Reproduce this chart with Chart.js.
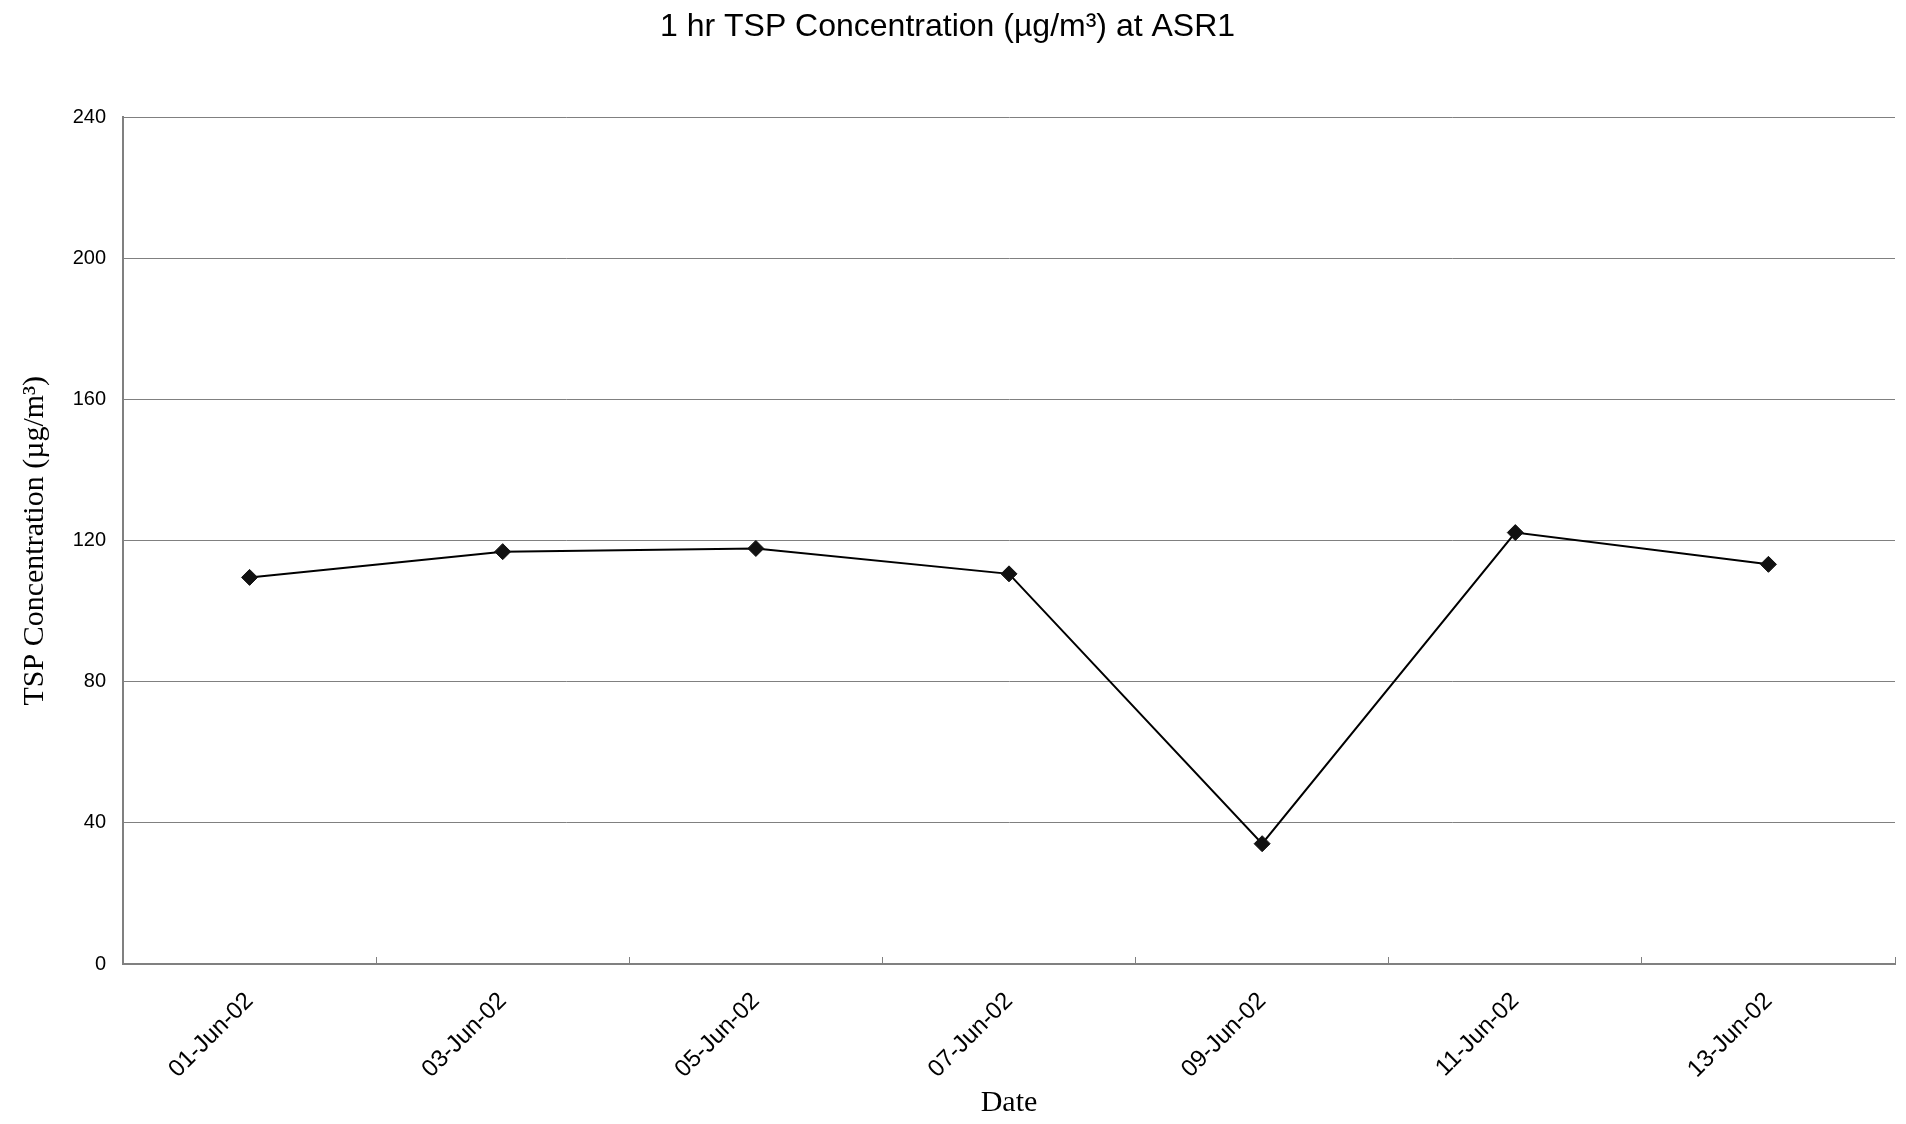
<!DOCTYPE html>
<html>
<head>
<meta charset="utf-8">
<title>1 hr TSP Concentration at ASR1</title>
<script src="https://cdn.jsdelivr.net/npm/chart.js@4.4.1/dist/chart.umd.min.js"></script>
<style>
    html, body {
        margin: 0;
        padding: 0;
        background: #ffffff;
    }
    canvas {
        display: block;
    }
</style>
</head>
<body>
<canvas id="tspChart" width="1906" height="1124"></canvas>
<script>
// Chart data
const dateLabels = ['01-Jun-02', '03-Jun-02', '05-Jun-02', '07-Jun-02', '09-Jun-02', '11-Jun-02', '13-Jun-02'];
const tspValues = [109.6, 116.9, 117.8, 110.6, 34.1, 122.3, 113.3];

// Y axis tick range
const yMin = 0;
const yMax = 240;
const yStep = 40;

const axisGray = '#808080';

document.addEventListener('DOMContentLoaded', () => {
    initializeTspChart();
});

function initializeTspChart() {
    const ctx = document.getElementById('tspChart').getContext('2d');

    const data = {
        labels: dateLabels,
        datasets: [{
            label: 'TSP',
            data: tspValues,
            borderColor: '#000000',
            backgroundColor: '#000000',
            borderWidth: 2,
            pointStyle: 'rectRot',
            pointRadius: 8,
            pointHoverRadius: 8,
            pointBackgroundColor: '#111111',
            pointBorderColor: '#111111',
            pointBorderWidth: 1,
            tension: 0,
            fill: false
        }]
    };

    const config = {
        type: 'line',
        data: data,
        options: {
            responsive: false,
            animation: false,
            layout: {
                padding: { left: 0, right: 11, top: 0, bottom: 0 }
            },
            plugins: {
                legend: {
                    display: false
                },
                tooltip: {
                    enabled: false
                },
                title: {
                    display: true,
                    text: '1 hr TSP Concentration (µg/m³) at ASR1',
                    color: '#000000',
                    font: {
                        family: '"Liberation Sans", Arial, sans-serif',
                        size: 32,
                        weight: 'normal'
                    },
                    padding: { top: 8, bottom: 71 }
                }
            },
            scales: {
                x: {
                    offset: true,
                    grid: {
                        offset: true,
                        drawOnChartArea: false,
                        drawTicks: true,
                        tickLength: -7,
                        color: axisGray,
                        lineWidth: 1
                    },
                    border: {
                        display: true,
                        color: axisGray,
                        width: 2
                    },
                    ticks: {
                        color: '#000000',
                        minRotation: 45,
                        maxRotation: 45,
                        padding: 30,
                        font: {
                            family: '"Liberation Sans", Arial, sans-serif',
                            size: 24
                        }
                    },
                    title: {
                        display: true,
                        text: 'Date',
                        color: '#000000',
                        font: {
                            family: '"Liberation Serif", "Times New Roman", serif',
                            size: 30
                        },
                        padding: { top: 0, bottom: 3 }
                    },
                    afterFit: (scale) => {
                        scale.height = 160;
                    }
                },
                y: {
                    min: yMin,
                    max: yMax,
                    ticks: {
                        stepSize: yStep,
                        color: '#000000',
                        padding: 17,
                        font: {
                            family: '"Liberation Sans", Arial, sans-serif',
                            size: 20
                        }
                    },
                    grid: {
                        color: axisGray,
                        lineWidth: 1,
                        drawTicks: false
                    },
                    border: {
                        display: true,
                        color: axisGray,
                        width: 2
                    },
                    title: {
                        display: true,
                        text: 'TSP Concentration (µg/m³)',
                        color: '#000000',
                        font: {
                            family: '"Liberation Serif", "Times New Roman", serif',
                            size: 30
                        },
                        padding: { top: 17, bottom: 0 }
                    },
                    afterFit: (scale) => {
                        scale.width = 123;
                    }
                }
            }
        }
    };

    new Chart(ctx, config);
}
</script>
</body>
</html>
